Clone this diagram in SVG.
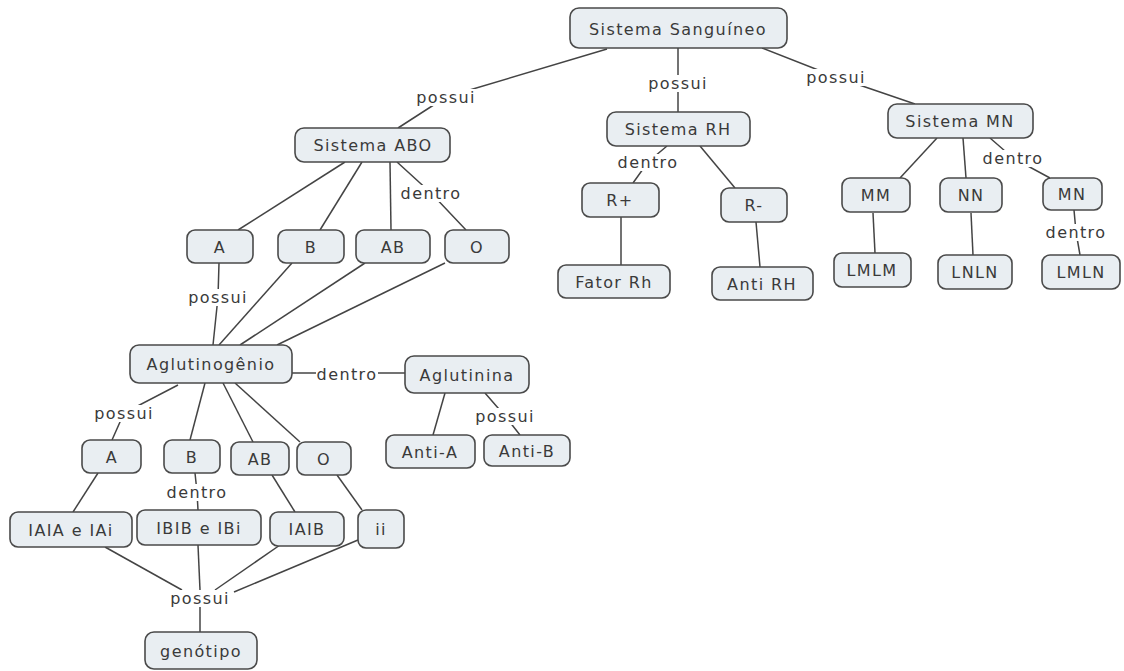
<svg xmlns="http://www.w3.org/2000/svg" width="1124" height="671" viewBox="0 0 1124 671">
  <style>
    .node rect { fill: #e9eef2; stroke: #4a4a4a; stroke-width: 1.6; }
    .node text, .lbl text { font-family: "DejaVu Sans", Verdana, sans-serif; font-size: 16px; letter-spacing: 1.4px; fill: #3a3a3a; text-anchor: middle; dominant-baseline: central; }
    .lbl rect { fill: #ffffff; stroke: none; }
    #connectors polyline, #connectors line { fill: none; stroke: #444; stroke-width: 1.5; }
  </style>
  <rect width="1124" height="671" fill="#ffffff"/>

  <!-- connectors -->
  <g id="connectors">
    <polyline points="607,49 446,97 398,128"/>
    <line x1="678" y1="48" x2="678" y2="112"/>
    <polyline points="762,48 836,77 915,104"/>
    <line x1="345" y1="162" x2="238" y2="230"/>
    <line x1="362" y1="162" x2="320" y2="230"/>
    <line x1="390" y1="162" x2="391" y2="230"/>
    <polyline points="397,162 431,193 466,230"/>
    <polyline points="219,263 218,297 213,345"/>
    <line x1="292" y1="263" x2="219" y2="345"/>
    <line x1="365" y1="263" x2="240" y2="345"/>
    <line x1="445" y1="263" x2="277" y2="345"/>
    <line x1="292" y1="373" x2="405" y2="373"/>
    <polyline points="178,385 124,413 112,440"/>
    <line x1="205" y1="383" x2="190" y2="440"/>
    <line x1="223" y1="383" x2="253" y2="442"/>
    <line x1="235" y1="383" x2="300" y2="442"/>
    <line x1="445" y1="393" x2="433" y2="435"/>
    <polyline points="485,393 505,416 520,435"/>
    <line x1="98" y1="473" x2="73" y2="512"/>
    <polyline points="195,473 197,492 198,510"/>
    <line x1="272" y1="475" x2="295" y2="512"/>
    <line x1="337" y1="475" x2="362" y2="510"/>
    <line x1="105" y1="547" x2="182" y2="590"/>
    <line x1="198" y1="545" x2="200" y2="590"/>
    <line x1="280" y1="545" x2="215" y2="590"/>
    <line x1="358" y1="540" x2="234" y2="592"/>
    <line x1="200" y1="605" x2="200" y2="632"/>
    <polyline points="667,146 648,162 633,183"/>
    <line x1="700" y1="146" x2="735" y2="188"/>
    <line x1="621" y1="217" x2="621" y2="265"/>
    <line x1="756" y1="222" x2="760" y2="267"/>
    <line x1="937" y1="138" x2="900" y2="178"/>
    <line x1="963" y1="138" x2="966" y2="178"/>
    <polyline points="990,138 1013,158 1050,178"/>
    <line x1="873" y1="213" x2="875" y2="253"/>
    <line x1="971" y1="213" x2="973" y2="255"/>
    <polyline points="1074,210 1076,232 1080,255"/>
  </g>

  <!-- link labels -->
  <g class="lbl">
    <rect x="416" y="89" width="60" height="17"/><text x="446" y="97">possui</text>
    <rect x="648" y="75" width="60" height="17"/><text x="678" y="83">possui</text>
    <rect x="806" y="69" width="60" height="17"/><text x="836" y="77">possui</text>
    <rect x="400" y="185" width="62" height="17"/><text x="431" y="193">dentro</text>
    <rect x="188" y="289" width="60" height="17"/><text x="218" y="297">possui</text>
    <rect x="316" y="366" width="62" height="17"/><text x="347" y="374">dentro</text>
    <rect x="94" y="405" width="60" height="17"/><text x="124" y="413">possui</text>
    <rect x="475" y="408" width="60" height="17"/><text x="505" y="416">possui</text>
    <rect x="166" y="484" width="62" height="17"/><text x="197" y="492">dentro</text>
    <rect x="170" y="590" width="60" height="17"/><text x="200" y="598">possui</text>
    <rect x="617" y="154" width="62" height="17"/><text x="648" y="162">dentro</text>
    <rect x="982" y="150" width="62" height="17"/><text x="1013" y="158">dentro</text>
    <rect x="1045" y="224" width="62" height="17"/><text x="1076" y="232">dentro</text>
  </g>

  <!-- concept nodes -->
  <g id="n-sanguineo" class="node"><rect x="570" y="8" width="217" height="40" rx="9"/><text x="678" y="29">Sistema Sanguíneo</text></g>
  <g id="n-abo" class="node"><rect x="295" y="128" width="155" height="34" rx="9"/><text x="373" y="145">Sistema ABO</text></g>
  <g id="n-rh" class="node"><rect x="607" y="112" width="143" height="34" rx="9"/><text x="678" y="129">Sistema RH</text></g>
  <g id="n-mn-sys" class="node"><rect x="888" y="104" width="145" height="34" rx="9"/><text x="960" y="121">Sistema MN</text></g>

  <g id="n-a1" class="node"><rect x="187" y="230" width="66" height="33" rx="8"/><text x="220" y="247">A</text></g>
  <g id="n-b1" class="node"><rect x="278" y="230" width="66" height="33" rx="8"/><text x="311" y="247">B</text></g>
  <g id="n-ab1" class="node"><rect x="356" y="230" width="74" height="33" rx="8"/><text x="393" y="247">AB</text></g>
  <g id="n-o1" class="node"><rect x="445" y="230" width="64" height="33" rx="8"/><text x="477" y="247">O</text></g>

  <g id="n-rpos" class="node"><rect x="582" y="183" width="77" height="34" rx="8"/><text x="620" y="200">R+</text></g>
  <g id="n-rneg" class="node"><rect x="721" y="188" width="66" height="34" rx="8"/><text x="754" y="205">R-</text></g>
  <g id="n-fator" class="node"><rect x="558" y="265" width="112" height="33" rx="8"/><text x="614" y="282">Fator Rh</text></g>
  <g id="n-antirh" class="node"><rect x="712" y="267" width="101" height="33" rx="8"/><text x="762" y="284">Anti RH</text></g>

  <g id="n-mm" class="node"><rect x="842" y="178" width="68" height="34" rx="8"/><text x="876" y="195">MM</text></g>
  <g id="n-nn" class="node"><rect x="940" y="178" width="62" height="34" rx="8"/><text x="971" y="195">NN</text></g>
  <g id="n-mn" class="node"><rect x="1043" y="178" width="59" height="32" rx="8"/><text x="1072" y="194">MN</text></g>
  <g id="n-lmlm" class="node"><rect x="834" y="253" width="77" height="34" rx="8"/><text x="872" y="270">LMLM</text></g>
  <g id="n-lnln" class="node"><rect x="938" y="255" width="74" height="34" rx="8"/><text x="975" y="272">LNLN</text></g>
  <g id="n-lmln" class="node"><rect x="1042" y="255" width="78" height="34" rx="8"/><text x="1081" y="272">LMLN</text></g>

  <g id="n-aglutinogenio" class="node"><rect x="130" y="345" width="162" height="38" rx="9"/><text x="211" y="364">Aglutinogênio</text></g>
  <g id="n-aglutinina" class="node"><rect x="405" y="356" width="124" height="37" rx="9"/><text x="467" y="375">Aglutinina</text></g>
  <g id="n-antia" class="node"><rect x="386" y="435" width="89" height="33" rx="8"/><text x="430" y="452">Anti-A</text></g>
  <g id="n-antib" class="node"><rect x="484" y="435" width="86" height="31" rx="8"/><text x="527" y="451">Anti-B</text></g>

  <g id="n-a2" class="node"><rect x="82" y="440" width="59" height="33" rx="8"/><text x="112" y="457">A</text></g>
  <g id="n-b2" class="node"><rect x="164" y="440" width="56" height="33" rx="8"/><text x="192" y="457">B</text></g>
  <g id="n-ab2" class="node"><rect x="231" y="442" width="58" height="33" rx="8"/><text x="260" y="459">AB</text></g>
  <g id="n-o2" class="node"><rect x="297" y="442" width="54" height="33" rx="8"/><text x="324" y="459">O</text></g>

  <g id="n-iaia" class="node"><rect x="10" y="512" width="122" height="35" rx="8"/><text x="71" y="530">IAIA e IAi</text></g>
  <g id="n-ibib" class="node"><rect x="137" y="510" width="124" height="35" rx="8"/><text x="199" y="528">IBIB e IBi</text></g>
  <g id="n-iaib" class="node"><rect x="270" y="512" width="74" height="34" rx="8"/><text x="307" y="529">IAIB</text></g>
  <g id="n-ii" class="node"><rect x="358" y="510" width="46" height="38" rx="8"/><text x="381" y="529">ii</text></g>

  <g id="n-genotipo" class="node"><rect x="145" y="632" width="112" height="37" rx="9"/><text x="201" y="651">genótipo</text></g>
</svg>
